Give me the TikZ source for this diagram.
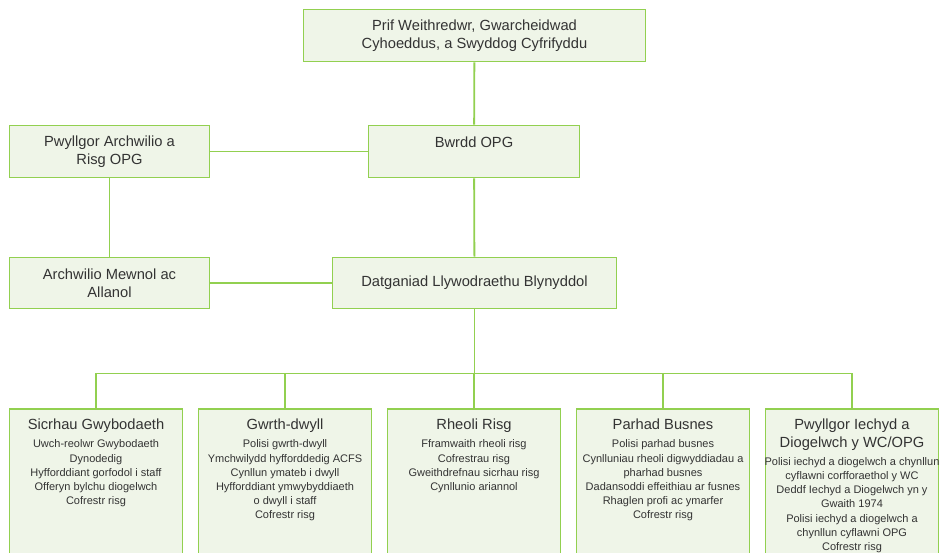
\documentclass[tikz,border=0pt]{standalone}
\usepackage{fontspec}
\setmainfont{Liberation Sans}
\usetikzlibrary{positioning,calc}

\definecolor{leaf}{RGB}{146,208,80}
\definecolor{leaffill}{RGB}{239,245,232}
\newcommand{\ttlfont}{\fontsize{14.7}{18.2}\selectfont}
\newcommand{\itmfont}{\fontsize{11}{14.2}\selectfont}

\tikzset{
    post/.style={draw=leaf, fill=leaffill, line width=1.9pt, align=center, font=\ttlfont, text=black!80, inner sep=3pt},
    unit/.style={post, anchor=north, inner xsep=0.5pt, inner ysep=10pt},
    link/.style={draw=leaf, line width=1.8pt}
}

\begin{document}
\begin{tikzpicture}[x=1pt, y=-1pt]
        \fill[white] (0,0) rectangle (940,553);
        \useasboundingbox (0,0) rectangle (940,553);
        \clip (0,0) rectangle (940,553);

        % Upper levels
        \node[post, minimum width=342, minimum height=52] (chief) at (474.5,35.5) {Prif Weithredwr, Gwarcheidwad\\Cyhoeddus, a Swyddog Cyfrifyddu};
        \node[post, minimum width=211, minimum height=52] (board) at (474,151.5) {Bwrdd OPG\\~};
        \node[post, minimum width=200, minimum height=52] (audit) at (109.5,151.5) {Pwyllgor Archwilio a\\Risg OPG};
        \node[post, minimum width=200, minimum height=51] (review) at (109.5,283) {Archwilio Mewnol ac\\Allanol};
        \node[post, minimum width=284, minimum height=51] (statement) at (474.5,283) {Datganiad Llywodraethu Blynyddol};

        \draw[link] (chief) -- (board);
        \draw[link] (board) -- (audit);
        \draw[link] (audit) -- (review);
        \draw[link] (board) -- (statement);
        \draw[link] (review) -- (statement);

        % Units
        \node[unit] (sicr) at (96,407.7) {\parbox[t][160pt][t]{172pt}{\centering Sicrhau Gwybodaeth\par\vspace{4.4pt}\itmfont
            Uwch-reolwr Gwybodaeth\\Dynodedig\\Hyfforddiant gorfodol i staff\\Offeryn bylchu diogelwch\\Cofrestr risg}};
        \node[unit] (gwrth) at (285,407.7) {\parbox[t][160pt][t]{172pt}{\centering Gwrth-dwyll\par\vspace{4.4pt}\itmfont
            Polisi gwrth-dwyll\\Ymchwilydd hyfforddedig ACFS\\Cynllun ymateb i dwyll\\Hyfforddiant ymwybyddiaeth\\o dwyll i staff\\Cofrestr risg}};
        \node[unit] (risg) at (474,407.7) {\parbox[t][160pt][t]{172pt}{\centering Rheoli Risg\par\vspace{4.4pt}\itmfont
            Fframwaith rheoli risg\\Cofrestrau risg\\Gweithdrefnau sicrhau risg\\Cynllunio ariannol}};
        \node[unit] (parhad) at (663,407.7) {\parbox[t][160pt][t]{172pt}{\centering Parhad Busnes\par\vspace{4.4pt}\itmfont
            Polisi parhad busnes\\Cynlluniau rheoli digwyddiadau a\\pharhad busnes\\Dadansoddi effeithiau ar fusnes\\Rhaglen profi ac ymarfer\\Cofrestr risg}};
        \node[unit] (iechyd) at (852,407.7) {\parbox[t][160pt][t]{172pt}{\centering Pwyllgor Iechyd a\\Diogelwch y WC/OPG\par\vspace{3.6pt}\itmfont
            \makebox[172pt]{Polisi iechyd a diogelwch a chynllun}\\cyflawni corfforaethol y WC\\Deddf Iechyd a Diogelwch yn y\\Gwaith 1974\\Polisi iechyd a diogelwch a\\chynllun cyflawni OPG\\Cofrestr risg}};

        \draw[link] (statement.south) -- ++(0,64) coordinate (bus);
        \foreach \u in {sicr,gwrth,risg,parhad,iechyd} {
            \draw[link] (bus) -| (\u.north);
        }
    \end{tikzpicture}
\end{document}
